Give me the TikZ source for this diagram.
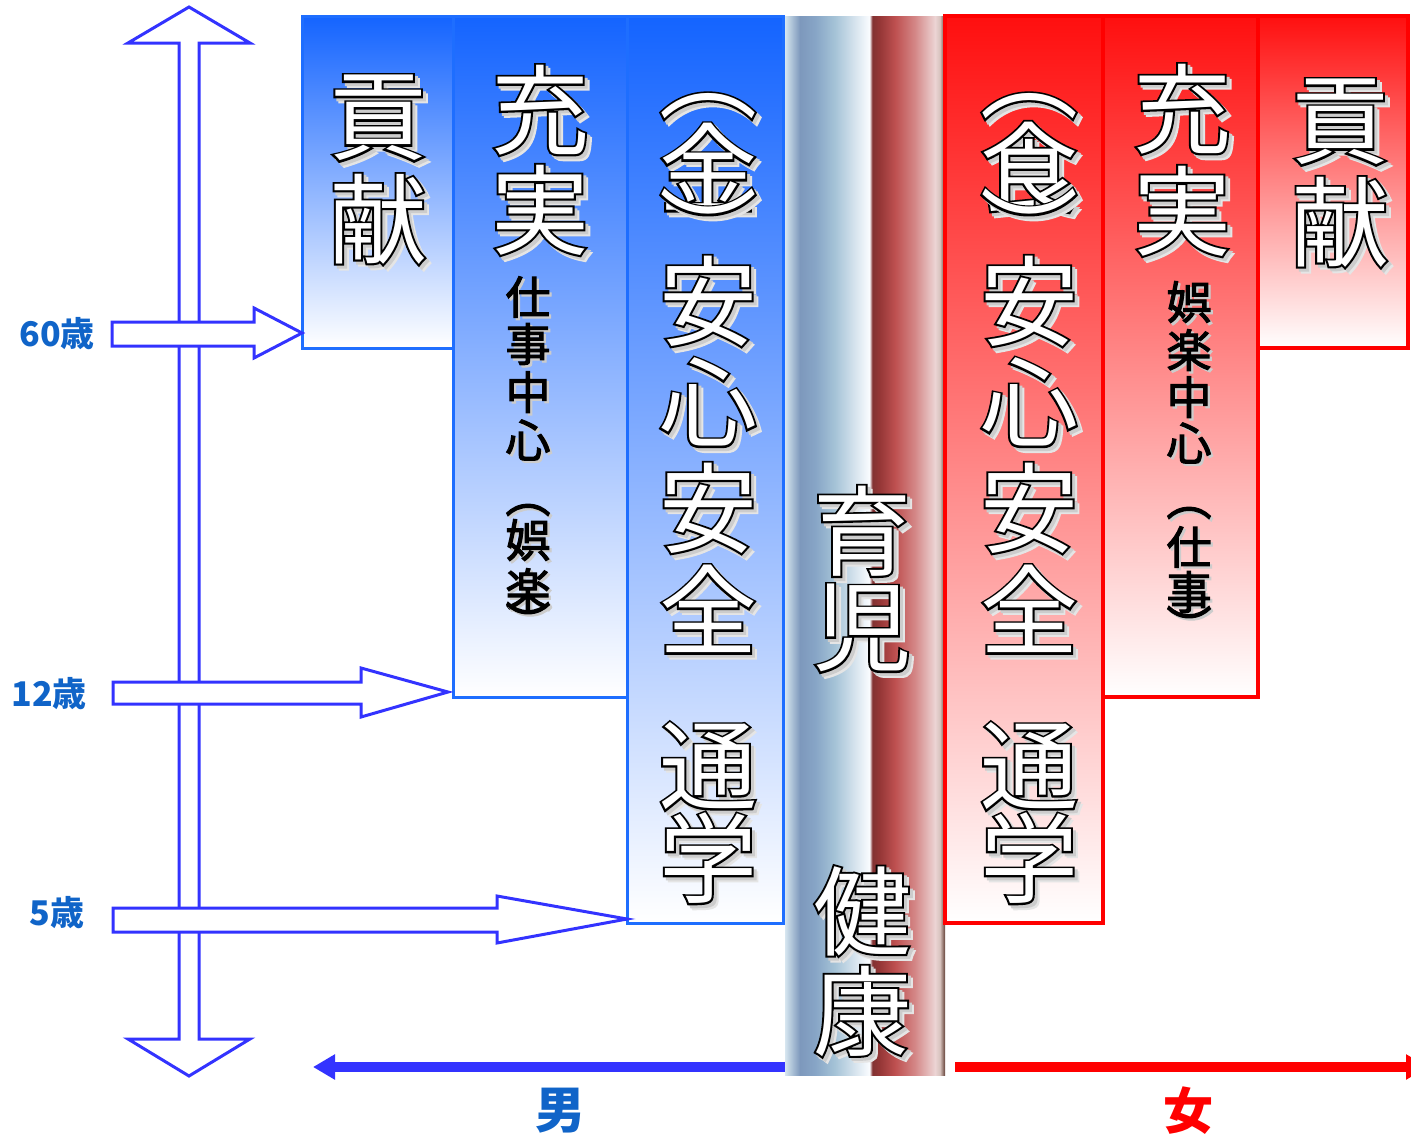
\documentclass[tikz,border=0pt]{standalone}
\usepackage{fontspec}
\usetikzlibrary{arrows.meta}
\newfontfamily\jp{Noto Sans CJK JP}
\newfontfamily\jpline[FakeBold=4]{Noto Sans CJK JP}
\newfontfamily\jpsoft[FakeBold=2.5]{Noto Sans CJK JP}

\definecolor{axisblue}{RGB}{51,51,255}
\definecolor{agetext}{RGB}{16,100,200}
\definecolor{boytop}{RGB}{20,100,255}
\definecolor{boyline}{RGB}{30,110,255}
\definecolor{girltop}{RGB}{255,15,15}
\definecolor{girlline}{RGB}{255,0,0}
\definecolor{poleA}{RGB}{215,230,240}
\definecolor{poleB}{RGB}{185,205,222}
\definecolor{poleC}{RGB}{125,152,188}
\definecolor{poleD}{RGB}{135,165,198}
\definecolor{poleE}{RGB}{165,195,215}
\definecolor{poleF}{RGB}{215,228,238}
\definecolor{poleG}{RGB}{250,252,255}
\definecolor{poleH}{RGB}{130,50,50}
\definecolor{poleI}{RGB}{150,55,55}
\definecolor{poleJ}{RGB}{190,80,80}
\definecolor{poleK}{RGB}{212,135,135}
\definecolor{poleL}{RGB}{236,212,212}
\definecolor{poleM}{RGB}{215,195,190}
\definecolor{poleN}{RGB}{100,65,55}

\pgfdeclarehorizontalshading{pole}{100bp}{color(0bp)=(poleA); color(25bp)=(poleA);
  color(26.5bp)=(poleB); color(29.7bp)=(poleC); color(34.4bp)=(poleD);
  color(40.6bp)=(poleE); color(46.9bp)=(poleF); color(51.4bp)=(poleG);
  color(52.3bp)=(poleH); color(54.7bp)=(poleI); color(59.4bp)=(poleJ);
  color(65.6bp)=(poleK); color(71.9bp)=(poleL); color(73.4bp)=(poleM);
  color(75bp)=(poleN); color(100bp)=(poleN)}

% white letter, black rim, soft grey shadow
\newcommand\outchar[1]{\makebox[1em]{%
  \makebox[0pt]{\kern0.10em\smash{\raisebox{-0.05em}{\color{black!10}\jpline#1}}}%
  \makebox[0pt]{\kern0.06em\smash{\raisebox{-0.03em}{\color{black!20}\jpline#1}}}%
  \makebox[0pt]{\color{black}\jpline#1}%
  \makebox[0pt]{\color{white}\jp#1}}}
\newcommand\darkchar[1]{\makebox[1em]{%
  \makebox[0pt]{\kern0.10em\smash{\raisebox{-0.05em}{\color{black!20}#1}}}%
  \makebox[0pt]{\color{black}#1}}}

\tikzset{
  bigchar/.style={inner sep=0pt, font=\fontsize{98}{98}\selectfont},
  smallchar/.style={inner sep=0pt, font=\jpsoft\fontsize{45}{45}\selectfont},
  boybox/.style={draw=boyline, line width=3pt, top color=boytop, bottom color=white,
    anchor=north west, inner sep=0pt, outer sep=0pt},
  girlbox/.style={draw=girlline, line width=3.5pt, top color=girltop, bottom color=white,
    anchor=north west, inner sep=0pt, outer sep=0pt},
  hollow/.style={draw=axisblue, line width=3pt, fill=white},
  agelabel/.style={text=agetext, font=\jp\bfseries\fontsize{34}{34}\selectfont},
}

\begin{document}
\begin{tikzpicture}[x=1pt, y=-1pt]
\useasboundingbox (0,0) rectangle (1411,1136);

% columns
\node[boybox, minimum width=151pt, minimum height=332pt] (mk) at (302,16) {};
\node[boybox, minimum width=174pt, minimum height=681pt] (mj) at (453,16) {};
\node[boybox, minimum width=156pt, minimum height=907pt] (ma) at (627,16) {};
\node[anchor=north west, inner sep=0pt, outer sep=0pt, minimum width=160pt,
  minimum height=1059pt, shading=pole] (pole) at (785,16) {};
\node[girlbox, minimum width=158pt, minimum height=907pt] (fa) at (945,16) {};
\node[girlbox, minimum width=155pt, minimum height=681pt] (fj) at (1103,16) {};
\node[girlbox, minimum width=150pt, minimum height=332pt] (fk) at (1258,16) {};

% big letters
\foreach \c/\y [count=\i] in {貢/118,献/219}
  \node[bigchar] (mk\i) at (378,\y) {\outchar{\c}};
\foreach \c/\y [count=\i] in {充/110,実/210}
  \node[bigchar] (mj\i) at (540,\y) {\outchar{\c}};
\foreach \c/\y [count=\i] in {︵/106,金/167,︶/230,安/301,心/402,安/508,全/609,通/766,学/858}
  \node[bigchar] (ma\i) at (708,\y) {\outchar{\c}};
\foreach \c/\y [count=\i] in {育/531,児/628,健/911,康/1011}
  \node[bigchar] (pole\i) at (862,\y) {\outchar{\c}};
\foreach \c/\y [count=\i] in {︵/106,食/167,︶/230,安/301,心/402,安/508,全/609,通/766,学/858}
  \node[bigchar] (fa\i) at (1029,\y) {\outchar{\c}};
\foreach \c/\y [count=\i] in {充/109,実/211}
  \node[bigchar] (fj\i) at (1182,\y) {\outchar{\c}};
\foreach \c/\y [count=\i] in {貢/122,献/222}
  \node[bigchar] (fk\i) at (1340,\y) {\outchar{\c}};

% small letters
\foreach \c/\y [count=\i] in {仕/297,事/344,中/392,心/440,︵/510,娯/540,楽/589,︶/621}
  \node[smallchar] (ms\i) at (528,\y) {\darkchar{\c}};
\foreach \c/\y [count=\i] in {娯/302,楽/350,中/397,心/443,︵/513,仕/547,事/592,︶/625}
  \node[smallchar] (fs\i) at (1189,\y) {\darkchar{\c}};

% age axis
\draw[hollow] (189,7) -- (250,43) -- (199,43) -- (199,1039) -- (250,1039) -- (189,1076)
  -- (128,1039) -- (179,1039) -- (179,43) -- (128,43) -- cycle;

\coordinate (t60) at ([yshift=15pt]mk.south west);
\coordinate (t12) at ([shift={(-5pt,5pt)}]mj.south west);
\coordinate (t5) at ([yshift=4pt]ma.south west);
\draw[hollow] (t60) -- ++(-48,-25) -- ++(0,14) -- ++(-142,0) -- ++(0,24) -- ++(142,0) -- ++(0,12) -- cycle;
\draw[hollow] (t12) -- ++(-87,-24) -- ++(0,14) -- ++(-248,0) -- ++(0,22) -- ++(248,0) -- ++(0,13) -- cycle;
\draw[hollow] (t5) -- ++(-130,-23) -- ++(0,12) -- ++(-384,0) -- ++(0,24) -- ++(384,0) -- ++(0,11) -- cycle;

\node[agelabel] (a60) at (57,334) {60歳};
\node[agelabel] (a12) at (49,694) {12歳};
\node[agelabel] (a5) at (57,913) {5歳};

% sexes
\coordinate (mtip) at (313,1067);
\coordinate (ftip) at (1428,1067);
\draw[axisblue, line width=10pt, -{Triangle[length=22pt, width=24pt]}] (pole.west |- 0,1067) -- (mtip);
\draw[girlline, line width=10pt, -{Triangle[length=22pt, width=24pt]}] ([xshift=10pt]pole.east |- 0,1067) -- (ftip);
\node[text=agetext, font=\jp\bfseries\fontsize{50}{50}\selectfont] (boy) at (560,1111) {男};
\node[text=girlline, font=\jp\bfseries\fontsize{50}{50}\selectfont] (girl) at (1188,1111) {女};
\end{tikzpicture}
\end{document}
